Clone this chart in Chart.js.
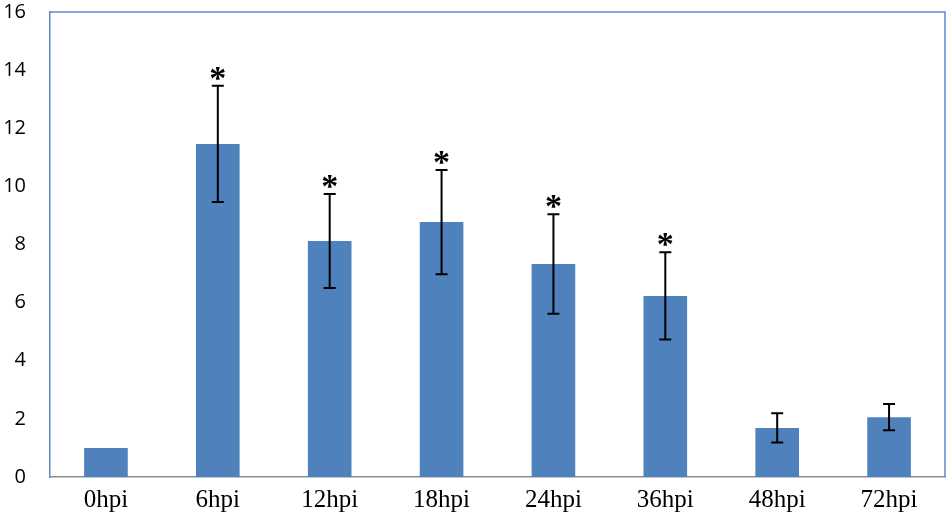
<!DOCTYPE html>
<html>
<head>
<meta charset="utf-8">
<script src="https://cdn.jsdelivr.net/npm/chart.js@4"></script>
<style>
  html, body { margin: 0; padding: 0; background: #fff; }
  #wrap { width: 950px; height: 522px; }
</style>
</head>
<body>
<div id="wrap"><canvas id="bar-chart" width="950" height="522"></canvas></div>
<script>
const categories = ['0hpi', '6hpi', '12hpi', '18hpi', '24hpi', '36hpi', '48hpi', '72hpi'];
const values = [1.0, 11.46, 8.12, 8.77, 7.33, 6.23, 1.69, 2.06];
const errors = [0, 2.0, 1.62, 1.79, 1.71, 1.5, 0.5, 0.45];
const significant = [false, true, true, true, true, true, false, false];
const yTicks = [0, 2, 4, 6, 8, 10, 12, 14, 16];

// error bars + asterisks, drawn from the y scale
const errorBars = {
  id: 'errorBars',
  afterDatasetsDraw(chart) {
    const ctx = chart.ctx;
    const y = chart.scales.y;
    const bars = chart.getDatasetMeta(0).data;
    ctx.save();
    ctx.strokeStyle = '#000';
    ctx.lineWidth = 2;
    bars.forEach((bar, i) => {
      if (!errors[i]) return;
      const top = y.getPixelForValue(values[i] + errors[i]);
      const bottom = y.getPixelForValue(values[i] - errors[i]);
      ctx.beginPath();
      ctx.moveTo(bar.x, top);
      ctx.lineTo(bar.x, bottom);
      ctx.moveTo(bar.x - 6, top);
      ctx.lineTo(bar.x + 6, top);
      ctx.moveTo(bar.x - 6, bottom);
      ctx.lineTo(bar.x + 6, bottom);
      ctx.stroke();
      if (significant[i]) {
        ctx.fillStyle = '#000';
        ctx.font = 'bold 34px "Liberation Serif"';
        ctx.textAlign = 'center';
        ctx.textBaseline = 'middle';
        ctx.fillText('*', bar.x, top - 6);
      }
    });
    ctx.restore();
  }
};

// blue frame on the top and right of the plot area
const frame = {
  id: 'frame',
  afterDraw(chart) {
    const { left, right, top, bottom } = chart.chartArea;
    const ctx = chart.ctx;
    ctx.save();
    ctx.strokeStyle = '#5B8BC9';
    ctx.lineWidth = 1.5;
    ctx.beginPath();
    ctx.moveTo(left, top);
    ctx.lineTo(right, top);
    ctx.lineTo(right, bottom);
    ctx.stroke();
    ctx.restore();
  }
};

new Chart(document.getElementById('bar-chart'), {
  type: 'bar',
  data: {
    labels: categories,
    datasets: [{
      data: values,
      backgroundColor: '#4F81BD',
      categoryPercentage: 1,
      barPercentage: 0.39,
    }],
  },
  options: {
    responsive: false,
    animation: false,
    layout: { padding: { top: 12, right: 5, bottom: 0, left: 0 } },
    plugins: { legend: { display: false }, tooltip: { enabled: false } },
    scales: {
      x: {
        grid: { display: false, drawTicks: false },
        border: { color: '#8C8C8C', width: 1.5 },
        ticks: {
          color: '#000',
          padding: 8,
          font: { family: '"Liberation Serif"', size: 25 },
        },
        afterFit(scale) {
          scale.height = 45;
          scale.paddingLeft = 0;
          scale.paddingRight = 0;
        },
      },
      y: {
        min: 0,
        max: 16,
        afterBuildTicks(scale) { scale.ticks = yTicks.map(v => ({ value: v })); },
        grid: { display: false, drawTicks: false },
        border: { color: '#5B8BC9', width: 1.5 },
        ticks: {
          color: '#000',
          padding: 24,
          font: { family: '"Open Sans"', size: 20 },
        },
        afterFit(scale) {
          scale.width = 50;
          scale.paddingTop = 0;
          scale.paddingBottom = 0;
        },
      },
    },
  },
  plugins: [errorBars, frame],
});
</script>
</body>
</html>
